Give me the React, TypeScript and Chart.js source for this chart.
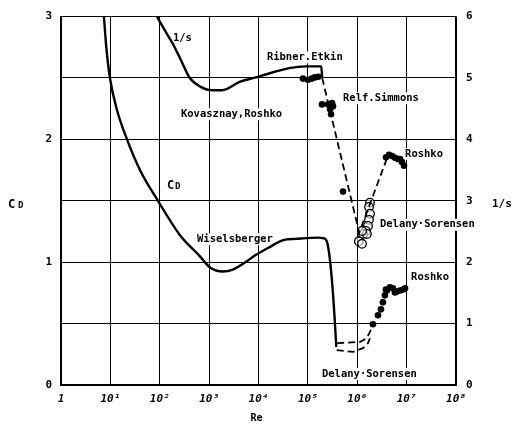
import { useEffect, useRef } from 'react';
import { Chart, registerables } from 'chart.js';

Chart.register(...registerables);

// Reynolds-number axis (logarithmic decades)
const reTicks = [1, 10, 100, 1e3, 1e4, 1e5, 1e6, 1e7, 1e8];
const reTickLabels = ['1', '10¹', '10²', '10³', '10⁴', '10⁵', '10⁶', '10⁷', '10⁸'];

// Drag coefficient C_D (Wiselsberger), left axis
const cdCurveRe = [7.4, 8.27, 9.8, 13.3, 21.7, 40.7, 92, 257, 646, 1047, 1905, 3020, 5890, 8913, 16218, 31623, 57544, 160000, 210000, 250000, 371535, 375000];
const cdCurveVal = [3.0, 2.749, 2.5, 2.254, 2.0, 1.743, 1.5, 1.22, 1.05, 0.957, 0.924, 0.94, 1.01, 1.06, 1.12, 1.18, 1.19, 1.2, 1.195, 1.15, 0.35, 0.31];

// Delany·Sorensen C_D, supercritical range (two dashed curves)
const cdDelanyUpperRe = [392000, 1150000, 1550000, 1810000, 1960000];
const cdDelanyUpperVal = [0.341, 0.351, 0.381, 0.432, 0.473];
const cdDelanyLowerRe = [383700, 820000, 1310000, 1650000, 1810000];
const cdDelanyLowerVal = [0.284, 0.27, 0.3, 0.341, 0.381];

// Roshko C_D points
const cdRoshkoRe = [2.08e6, 2.63e6, 3.02e6, 3.31e6, 3.63e6, 3.8e6, 3.99e6, 4.59e6, 5.28e6, 5.8e6, 6.34e6, 7.38e6, 8.49e6, 9.28e6];
const cdRoshkoVal = [0.495, 0.568, 0.616, 0.673, 0.73, 0.778, 0.77, 0.795, 0.787, 0.754, 0.762, 0.77, 0.778, 0.787];

// Inverse Strouhal number 1/s (Kovasznay, Roshko / Ribner, Etkin), right axis
const invSCurveRe = [87.7, 128, 186, 269, 407, 661, 1202, 1820, 4266, 8913, 41687, 91201, 186209, 194984];
const invSCurveVal = [6.0, 5.77, 5.55, 5.29, 5.0, 4.86, 4.8, 4.8, 4.94, 5.01, 5.16, 5.19, 5.19, 5.0];

// Dashed trend through the transition
const invSTrendRe = [194984, 1096478, 4168694];
const invSTrendVal = [5.0, 2.48, 3.73];

// Ribner.Etkin points
const invSRibnerRe = [79400, 100000, 120000, 138000, 162000];
const invSRibnerVal = [4.99, 4.97, 4.99, 5.01, 5.02];

// Relf.Simmons points
const invSRelfRe = [193000, 257000, 282000, 295000, 309000, 323000, 515000];
const invSRelfVal = [4.57, 4.57, 4.49, 4.41, 4.59, 4.54, 3.15];

// Delany·Sorensen points (open circles)
const invSDelanyRe = [1.81e6, 1.73e6, 1.81e6, 1.73e6, 1.65e6, 1.5e6, 1.31e6, 1.57e6, 1.25e6, 1.08e6, 1.25e6];
const invSDelanyVal = [2.97, 2.9, 2.79, 2.69, 2.59, 2.51, 2.46, 2.46, 2.51, 2.34, 2.3];

// Roshko 1/s points
const invSRoshkoRe = [3.82e6, 4.4e6, 5.06e6, 5.82e6, 6.69e6, 7.35e6, 8.05e6, 8.85e6];
const invSRoshkoVal = [3.71, 3.75, 3.73, 3.7, 3.68, 3.68, 3.63, 3.57];

// Curve labels anchored in (Re, C_D) coordinates
const curveLabels = [
  { text: '1/s', re: 185, cd: 2.82 },
  { text: 'Kovasznay,Roshko', re: 269, cd: 2.205 },
  { text: 'Ribner.Etkin', re: 14800, cd: 2.668 },
  { text: 'Relf.Simmons', re: 515000, cd: 2.335 },
  { text: 'Roshko', re: 9.3e6, cd: 1.88 },
  { text: 'Delany·Sorensen', re: 2.88e6, cd: 1.305 },
  { text: 'Wiselsberger', re: 569, cd: 1.187 },
  { text: 'Roshko', re: 1.23e7, cd: 0.876 },
  { text: 'Delany·Sorensen', re: 193000, cd: 0.089 },
];

const FONT = '"DejaVu Sans Mono", monospace';

const zip = (xs: number[], ys: number[]) => xs.map((x, i) => ({ x, y: ys[i] }));

function drawCD(ctx: CanvasRenderingContext2D, x: number, y: number, big: number, small: number, gap: number) {
  ctx.textAlign = 'left';
  ctx.textBaseline = 'alphabetic';
  ctx.font = `bold ${big}px ${FONT}`;
  ctx.fillText('C', x, y);
  ctx.font = `bold ${small}px ${FONT}`;
  ctx.fillText('D', x + gap, y);
}

const labelPlugin = {
  id: 'curveLabels',
  beforeDatasetsDraw(chart: any) {
    const { ctx, scales } = chart;
    const xs = scales.x;
    const ys = scales.y;
    ctx.save();
    ctx.font = `bold 10.5px ${FONT}`;
    ctx.textBaseline = 'middle';
    ctx.textAlign = 'left';
    for (const l of curveLabels) {
      const px = xs.getPixelForValue(l.re);
      const py = ys.getPixelForValue(l.cd);
      const w = ctx.measureText(l.text).width;
      ctx.fillStyle = '#fff';
      ctx.fillRect(px - 2, py - 6, w + 4, 12);
      ctx.fillStyle = '#000';
      ctx.fillText(l.text, px, py);
    }
    // C_D label next to the drag curve
    const cx = xs.getPixelForValue(140);
    const cy = ys.getPixelForValue(1.6);
    ctx.fillStyle = '#fff';
    ctx.fillRect(cx - 2, cy - 11, 20, 14);
    ctx.fillStyle = '#000';
    drawCD(ctx, cx, cy, 12, 9, 8);
    ctx.restore();
  },
  afterDraw(chart: any) {
    const { ctx, chartArea } = chart;
    ctx.save();
    ctx.fillStyle = '#000';
    const midY = (chartArea.top + chartArea.bottom) / 2;
    drawCD(ctx, 8, midY + 7, 12, 9, 10);
    ctx.font = `bold 11px ${FONT}`;
    ctx.textBaseline = 'middle';
    ctx.textAlign = 'left';
    ctx.fillText('1/s', 492, midY + 3);
    ctx.textAlign = 'center';
    ctx.font = `bold 10px ${FONT}`;
    ctx.fillText('Re', (chartArea.left + chartArea.right) / 2 - 2, 418);
    ctx.restore();
  },
};

export default function App() {
  const ref = useRef<HTMLCanvasElement>(null);

  useEffect(() => {
    if (!ref.current) return;
    const solid = { borderColor: '#000', borderWidth: 2.4, pointRadius: 0, fill: false, cubicInterpolationMode: 'monotone' as const };
    const dashed = { borderColor: '#000', borderWidth: 1.8, borderDash: [7, 4], pointRadius: 0, fill: false, tension: 0 };
    const dots = { showLine: false, pointRadius: 3.3, pointBackgroundColor: '#000', pointBorderColor: '#000', pointBorderWidth: 0 };

    const chart = new Chart(ref.current, {
      type: 'line',
      data: {
        datasets: [
          { ...solid, data: zip(cdCurveRe, cdCurveVal), yAxisID: 'y' },
          { ...dashed, data: zip(cdDelanyUpperRe, cdDelanyUpperVal), yAxisID: 'y' },
          { ...dashed, data: zip(cdDelanyLowerRe, cdDelanyLowerVal), yAxisID: 'y' },
          { ...dots, data: zip(cdRoshkoRe, cdRoshkoVal), yAxisID: 'y' },
          { ...solid, data: zip(invSCurveRe, invSCurveVal), yAxisID: 'y2' },
          { ...dashed, data: zip(invSTrendRe, invSTrendVal), yAxisID: 'y2' },
          { ...dots, data: zip(invSRibnerRe, invSRibnerVal), yAxisID: 'y2' },
          { ...dots, data: zip(invSRelfRe, invSRelfVal), yAxisID: 'y2' },
          { ...dots, data: zip(invSRoshkoRe, invSRoshkoVal), yAxisID: 'y2' },
          {
            showLine: false,
            data: zip(invSDelanyRe, invSDelanyVal),
            yAxisID: 'y2',
            pointRadius: 4.3,
            pointBackgroundColor: 'rgba(255,255,255,0.6)',
            pointBorderColor: '#000',
            pointBorderWidth: 1.3,
          },
        ] as any,
      },
      options: {
        animation: false,
        responsive: false,
        events: [],
        layout: { padding: { top: 15, left: 0, right: 0, bottom: 0 } },
        plugins: { legend: { display: false }, tooltip: { enabled: false } },
        scales: {
          x: {
            type: 'logarithmic',
            position: 'bottom',
            min: 1,
            max: 1e8,
            afterBuildTicks: (s: any) => {
              s.ticks = reTicks.map((v) => ({ value: v }));
            },
            afterFit: (s: any) => {
              s.height = 39;
            },
            ticks: {
              autoSkip: false,
              maxRotation: 0,
              padding: 8,
              color: '#000',
              font: { family: FONT, size: 11, style: 'italic', weight: 'bold' },
              callback: (_v: any, i: number) => reTickLabels[i],
            },
            grid: { color: '#000', lineWidth: 1, drawTicks: false },
            border: { color: '#000', width: 2 },
          },
          y: {
            position: 'left',
            min: 0,
            max: 3,
            afterFit: (s: any) => {
              s.width = 61;
            },
            ticks: {
              stepSize: 0.5,
              padding: 9,
              color: '#000',
              font: { family: FONT, size: 11, weight: 'bold' },
              callback: (v: any) => (Number.isInteger(v) ? String(v) : ''),
            },
            grid: { color: '#000', lineWidth: 1, drawTicks: false },
            border: { color: '#000', width: 2 },
          },
          y2: {
            position: 'right',
            min: 0,
            max: 6,
            afterFit: (s: any) => {
              s.width = 56;
            },
            ticks: {
              stepSize: 1,
              padding: 10,
              color: '#000',
              font: { family: FONT, size: 11, weight: 'bold' },
            },
            grid: { display: false, drawTicks: false },
            border: { color: '#000', width: 1.5 },
          },
        },
      } as any,
      plugins: [labelPlugin],
    });
    return () => chart.destroy();
  }, []);

  return (
    <div style={{ position: 'absolute', left: 0, top: 0, width: 512, height: 424, background: '#fff' }}>
      <canvas ref={ref} width={512} height={424} />
    </div>
  );
}
